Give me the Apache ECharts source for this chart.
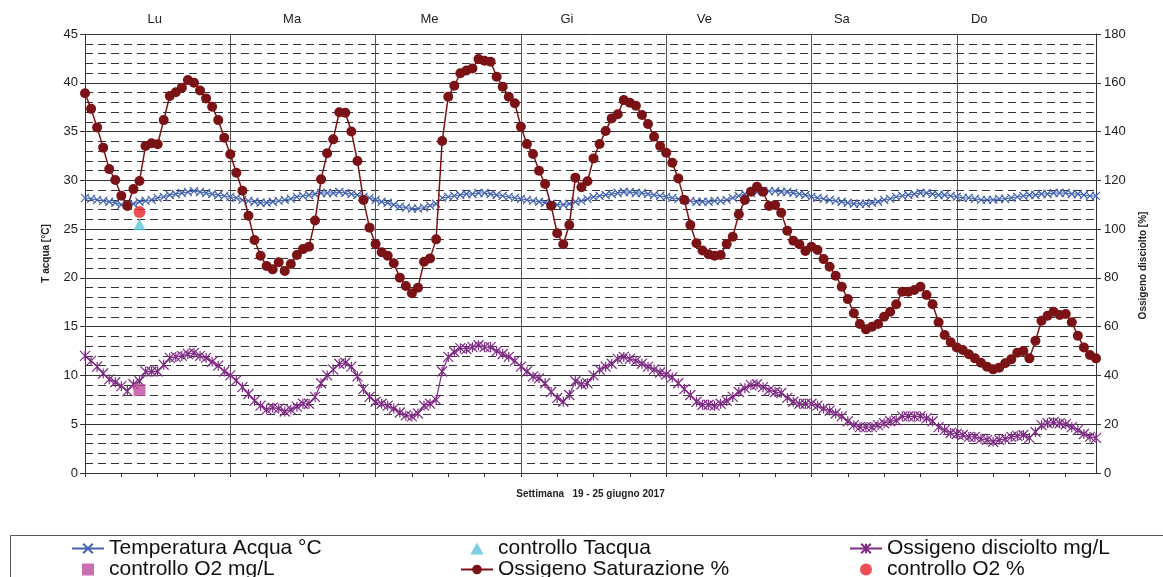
<!DOCTYPE html>
<html>
<head>
<meta charset="utf-8">
<script src="https://cdn.jsdelivr.net/npm/echarts@6/dist/echarts.min.js"></script>
<style>html,body{margin:0;padding:0;background:#fff;}#c{width:1163px;height:577px;}</style>
</head>
<body>
<div id="c"></div>
<script>
// ---- data ----
const days = ['Lu', 'Ma', 'Me', 'Gi', 'Ve', 'Sa', 'Do'];
const hoursPerDay = 24;

const temperatura = [
 28.2,28.1,28.0,27.9,27.8,27.7,27.5,
 27.5,27.6,27.8,27.9,28.0,
 28.2,28.3,28.5,28.6,28.7,28.8,
 28.9,28.8,28.7,28.6,28.5,28.4,28.3,
 28.2,28.0,27.9,27.8,27.7,27.7,
 27.8,27.9,28.0,28.1,28.3,28.4,28.5,28.6,28.7,28.7,28.7,
 28.8,28.7,28.6,28.5,28.3,28.2,28.0,
 27.8,27.7,27.5,27.3,27.2,27.1,
 27.1,27.2,27.4,27.6,
 28.2,28.3,28.4,28.5,28.6,28.6,28.7,
 28.7,28.6,28.5,28.4,28.3,28.2,28.1,
 28.0,27.9,27.8,27.7,27.6,27.5,27.5,
 27.6,27.8,27.9,28.1,28.3,28.4,28.5,28.6,28.7,28.8,
 28.8,28.7,28.7,28.6,28.5,28.4,28.3,
 28.2,28.1,28.0,27.9,27.8,
 27.8,27.8,27.9,27.9,28.0,
 28.2,28.4,28.6,28.7,28.8,28.9,
 28.9,28.9,28.8,28.8,28.7,28.6,28.5,28.3,
 28.2,28.1,28.0,27.9,27.8,27.7,27.6,27.6,27.6,
 27.7,27.8,28.0,28.1,28.3,28.4,28.5,28.6,28.7,
 28.7,28.6,28.5,28.5,28.4,28.3,
 28.2,28.2,28.1,28.0,28.0,28.0,
 28.1,28.1,28.2,28.3,28.4,28.5,28.5,28.6,28.6,28.7,28.7,
 28.7,28.6,28.6,28.5,28.4,28.4
];

const ossigenoMgL = [
 12.0,11.5,10.9,10.2,9.6,9.3,8.9,8.4,9.1,9.4,10.4,10.4,10.4,11.1,11.8,11.9,12.0,12.2,12.3,12.0,11.8,11.4,11.0,10.4,
 10.0,9.5,8.8,8.1,7.4,6.9,6.5,6.7,6.6,6.3,6.5,6.8,7.1,7.1,7.8,9.2,10.0,10.6,11.2,11.3,10.9,9.9,8.6,7.8,
 7.3,7.1,6.9,6.6,6.2,5.9,5.8,6.1,6.9,7.1,7.5,10.4,11.9,12.4,12.8,12.7,12.9,13.1,12.9,12.9,12.5,12.2,11.9,11.5,
 10.9,10.4,9.9,9.7,9.2,8.3,7.7,7.3,8.0,9.4,9.1,9.2,10.0,10.6,10.9,11.2,11.7,11.9,11.7,11.5,11.2,10.9,10.6,10.3,
 10.1,9.8,9.2,8.6,8.0,7.3,7.0,7.0,6.9,7.1,7.4,7.8,8.3,8.7,9.0,9.1,8.8,8.5,8.3,8.2,7.7,7.3,7.1,7.1,
 7.1,6.9,6.6,6.4,6.1,5.8,5.3,4.9,4.7,4.7,4.7,4.9,5.1,5.3,5.4,5.8,5.8,5.8,5.8,5.6,5.3,4.7,4.4,4.1,
 4.0,3.9,3.7,3.7,3.5,3.4,3.2,3.4,3.5,3.7,3.8,3.9,3.6,4.2,4.9,5.1,5.2,5.1,5.0,4.7,4.4,4.0,3.7,3.6
];

const saturazione = [
 155.7,149.3,141.7,133.4,124.6,120.1,113.7,109.5,116.4,119.7,134.1,135.2,134.8,144.7,154.6,156.1,158.0,161.1,160.0,156.8,153.6,150.2,144.7,137.5,
 130.7,123.1,115.7,105.5,95.5,89.1,84.9,83.5,86.4,82.8,85.7,89.4,91.8,92.8,103.5,120.4,131.1,136.8,147.9,147.7,140.0,127.9,111.9,100.6,
 93.9,90.5,89.1,86.0,80.1,76.7,73.7,76.0,86.6,88.0,95.8,136.1,154.3,158.8,163.9,165.0,165.9,169.7,169.0,168.6,162.5,158.4,154.3,151.6,
 142.0,134.9,130.8,123.9,118.5,109.6,98.3,93.8,101.7,121.1,117.2,119.6,129.0,134.9,140.2,145.4,147.1,152.9,151.8,150.6,146.8,143.1,137.9,134.1,
 131.3,127.2,120.8,111.9,101.7,94.2,91.2,89.7,89.1,89.4,93.9,96.9,106.1,111.9,115.3,117.4,115.3,109.5,109.9,106.7,99.3,95.2,93.8,91.0,
 92.8,91.4,87.7,84.6,80.9,76.4,71.3,65.5,61.1,58.9,60.0,61.1,64.1,66.1,69.2,74.3,74.3,75.0,76.4,73.0,69.2,61.8,56.6,53.6,
 51.5,50.4,48.7,47.0,45.2,43.6,42.5,43.2,45.0,46.6,49.3,50.0,47.0,54.2,62.4,64.5,66.1,64.8,65.2,61.8,56.3,51.5,48.4,47.0
];

// control measurements: [hour index, value]
const controlloTacqua = [[9, 25.5]];
const controlloO2mgL = [[9, 8.5]];
const controlloO2pct = [[9, 107]];

const leftTicks = {min: 0, max: 45, interval: 5};
const rightTicks = {min: 0, max: 180, interval: 20};

// ---- build categories ----
const categories = [];
days.forEach(d => { for (let h = 0; h < hoursPerDay; h++) categories.push(d + ' ' + h + ':00'); });

const FONT = 'Liberation Sans, Arial, sans-serif';
const cTemp = '#4262B0', cDO = '#7E2B84', cSat = '#7B1216';
const SQUARE = 'path://M0,0L10,0L10,10L0,10Z';
const TRI = 'path://M5,0L10,9L0,9Z';

const legendBase = {
  orient: 'vertical', top: 538, height: 60, padding: 0, itemGap: 0,
  itemWidth: 32, itemHeight: 12, symbolKeepAspect: true,
  textStyle: {fontSize: 21, color: '#111', fontFamily: FONT, lineHeight: 20}
};

const chart = echarts.init(document.getElementById('c'), null, {renderer: 'canvas'});
chart.setOption({
  animation: false,
  backgroundColor: '#fff',
  textStyle: {fontFamily: FONT},
  grid: [
    {left: 85, right: 67, top: 34, bottom: 104, containLabel: false},
    {left: 86, width: 962, top: 34, bottom: 104, containLabel: false}
  ],
  graphic: [{
    type: 'rect', left: 8, top: 533, silent: true,
    shape: {x: 0, y: 0, width: 1200, height: 100},
    style: {fill: 'none', stroke: '#555', lineWidth: 1}
  }],
  legend: [
    Object.assign({}, legendBase, {left: 71,
      data: ['Temperatura Acqua °C', {name: 'controllo O2 mg/L', icon: SQUARE}]}),
    Object.assign({}, legendBase, {left: 460,
      data: [{name: 'controllo Tacqua', icon: TRI}, 'Ossigeno Saturazione %']}),
    Object.assign({}, legendBase, {left: 849,
      data: ['Ossigeno disciolto mg/L', 'controllo O2 %']})
  ],
  xAxis: [
    {type: 'category', gridIndex: 0, data: categories, boundaryGap: false,
     name: 'Settimana   19 - 25 giugno 2017', nameLocation: 'middle', nameGap: 16,
     nameTextStyle: {fontWeight: 'bold', fontSize: 10, color: '#222', fontFamily: FONT},
     axisLine: {lineStyle: {color: '#333', width: 1}},
     axisTick: {show: true, interval: 5, length: 4, inside: false, lineStyle: {color: '#333'}},
     axisLabel: {show: false},
     splitLine: {show: true, interval: 23, lineStyle: {color: '#555', width: 1}}},
    {type: 'category', gridIndex: 1, data: days, position: 'top', boundaryGap: true,
     axisLine: {show: false}, axisTick: {show: false}, splitLine: {show: false},
     axisLabel: {fontSize: 13, color: '#222', margin: 8, fontFamily: FONT}}
  ],
  yAxis: [
    {type: 'value', gridIndex: 0, position: 'left', min: leftTicks.min, max: leftTicks.max, interval: leftTicks.interval,
     name: 'T acqua [°C]', nameLocation: 'middle', nameRotate: 90, nameGap: 34,
     nameTextStyle: {fontWeight: 'bold', fontSize: 10, color: '#222', fontFamily: FONT},
     axisLine: {show: true, lineStyle: {color: '#333'}},
     axisTick: {show: true, length: 5, lineStyle: {color: '#333'}},
     axisLabel: {fontSize: 13, color: '#222', margin: 7, fontFamily: FONT},
     splitLine: {show: true, lineStyle: {color: '#333', width: 1}},
     minorTick: {show: false, splitNumber: 5},
     minorSplitLine: {show: true, lineStyle: {color: '#333', width: 1, type: [8, 5]}}},
    {type: 'value', gridIndex: 0, position: 'right', min: rightTicks.min, max: rightTicks.max, interval: rightTicks.interval,
     name: 'Ossigeno disciolto [%]', nameLocation: 'middle', nameRotate: 90, nameGap: 42,
     nameTextStyle: {fontWeight: 'bold', fontSize: 10, color: '#222', fontFamily: FONT, padding: [0, 24, 0, 0]},
     axisLine: {show: true, lineStyle: {color: '#333'}},
     axisTick: {show: true, length: 5, lineStyle: {color: '#333'}},
     axisLabel: {fontSize: 13, color: '#222', margin: 8, fontFamily: FONT},
     splitLine: {show: false}},
    {type: 'value', gridIndex: 1, show: false, min: 0, max: 1}
  ],
  series: [
    {name: 'Temperatura Acqua °C', type: 'line', xAxisIndex: 0, yAxisIndex: 0, data: temperatura,
     showAllSymbol: true, symbol: 'path://M0,0L10,10M10,0L0,10', symbolSize: 8,
     lineStyle: {color: cTemp, width: 1},
     itemStyle: {color: cTemp, borderColor: cTemp, borderWidth: 1.2}, z: 3},
    {name: 'controllo Tacqua', type: 'scatter', xAxisIndex: 0, yAxisIndex: 0, data: controlloTacqua,
     symbol: 'triangle', symbolSize: 12, itemStyle: {color: '#5CC6DA'}, z: 6},
    {name: 'Ossigeno disciolto mg/L', type: 'line', xAxisIndex: 0, yAxisIndex: 0, data: ossigenoMgL,
     showAllSymbol: true, symbol: 'path://M0,0L10,10M10,0L0,10M5,0L5,10', symbolSize: 10,
     lineStyle: {color: cDO, width: 1.2},
     itemStyle: {color: cDO, borderColor: cDO, borderWidth: 1.2}, z: 3},
    {name: 'controllo O2 mg/L', type: 'scatter', xAxisIndex: 0, yAxisIndex: 0, data: controlloO2mgL,
     symbol: 'rect', symbolSize: 12, itemStyle: {color: '#C04C9E'}, z: 6},
    {name: 'Ossigeno Saturazione %', type: 'line', xAxisIndex: 0, yAxisIndex: 1, data: saturazione,
     showAllSymbol: true, symbol: 'circle', symbolSize: 10,
     lineStyle: {color: cSat, width: 1.5},
     itemStyle: {color: cSat}, z: 4},
    {name: 'controllo O2 %', type: 'scatter', xAxisIndex: 0, yAxisIndex: 1, data: controlloO2pct,
     symbol: 'circle', symbolSize: 12, itemStyle: {color: '#E8232B'}, z: 6}
  ]
});
</script>
</body>
</html>
